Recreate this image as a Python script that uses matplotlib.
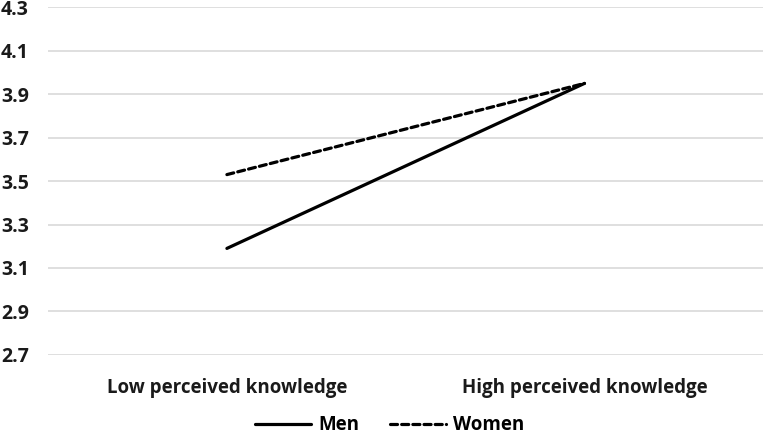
import matplotlib
matplotlib.use('Agg')
import matplotlib.pyplot as plt

# Data
categories = ['Low perceived knowledge', 'High perceived knowledge']
men = [3.19, 3.95]
women = [3.53, 3.95]
yticks = [2.7, 2.9, 3.1, 3.3, 3.5, 3.7, 3.9, 4.1, 4.3]

plt.rcParams['font.family'] = ['Open Sans', 'DejaVu Sans']

fig = plt.figure(figsize=(7.64, 4.38), dpi=100)
ax = fig.add_axes([0.063, 0.19, 0.936, 0.793])

x = range(len(categories))
ax.plot(x, men, color='black', linewidth=2.3, solid_capstyle='round',
        label='Men')
ax.plot(x, women, color='black', linewidth=2.3, linestyle=(0, (2.2, 1.3)),
        dash_capstyle='round', label='Women')

ax.set_xlim(-0.5, 1.5)
ax.set_ylim(2.7, 4.3)
ax.set_yticks(yticks)
ax.set_yticklabels([f'{v:.1f}' for v in yticks], fontweight='bold',
                   fontsize=14, color='#1a1a1a')
ax.set_xticks(list(x))
ax.set_xticklabels(categories, fontweight='bold', fontsize=13.5,
                   color='#1a1a1a')
ax.tick_params(axis='both', length=0)
ax.tick_params(axis='x', pad=17)
ax.tick_params(axis='y', pad=14)

ax.grid(True, axis='y', color='#d9d9d9', linewidth=1.2)
ax.set_axisbelow(True)
for s in ax.spines.values():
    s.set_visible(False)

fig.legend(loc='lower center', bbox_to_anchor=(0.51, -0.032), ncol=2,
           frameon=False, handlelength=3.0, columnspacing=1.6,
           handletextpad=0.4,
           prop={'weight': 'bold', 'size': 13.5, 'family': ['Open Sans', 'DejaVu Sans']})

fig.savefig('out.png', dpi=100)
